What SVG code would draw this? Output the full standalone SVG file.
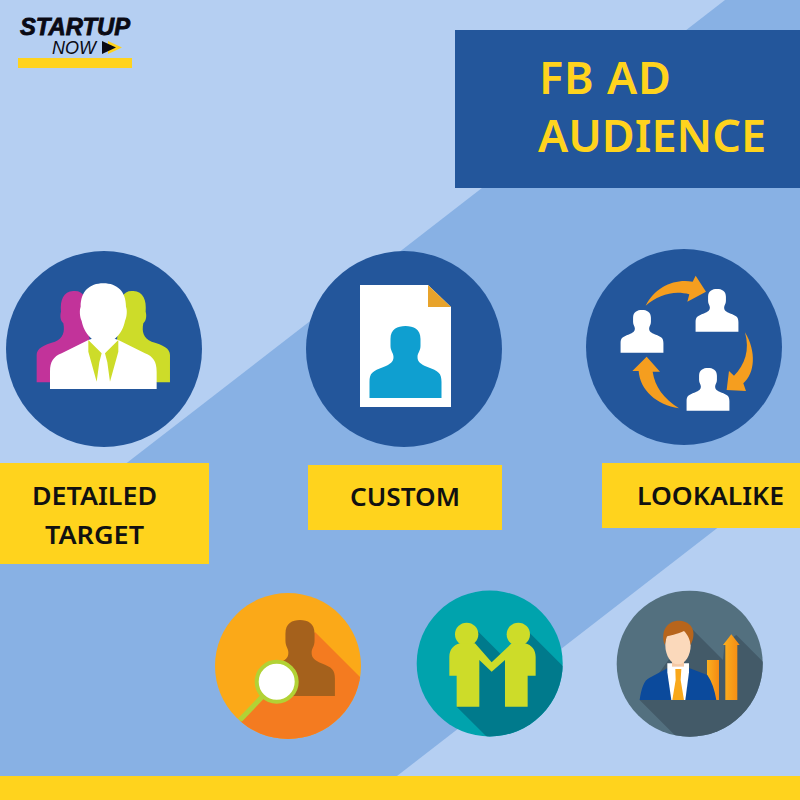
<svg xmlns="http://www.w3.org/2000/svg" width="800" height="800" viewBox="0 0 800 800">
<style>
.title{font-family:"Noto Sans","Open Sans",sans-serif;font-weight:600;font-size:45px;fill:#ffd31d}
.label{font-family:"Noto Sans","Open Sans",sans-serif;font-weight:600;font-size:26px;fill:#111}
.box{fill:#ffd31d}
.navy{fill:#23569b}
.arrow{fill:#f59e1f}
</style>
<defs>
<path id="bust" d="M-15 13C-15 3-8 0 0 0C8 0 15 3 15 13L15 20C15 25 12 27 12 31C12 36 15 38 22 41C33 45 36 47 36 56L36 72H-36V56C-36 47-33 45-22 41C-15 38-12 36-12 31C-12 27-15 25-15 20Z"/>
<linearGradient id="barGrad" x1="0" x2="1" y1="0" y2="0"><stop offset="0" stop-color="#fbb01e"/><stop offset="1" stop-color="#f58a14"/></linearGradient>
<clipPath id="clipMag"><circle cx="288" cy="666" r="73"/></clipPath>
<clipPath id="clipShake"><circle cx="489.7" cy="663.5" r="73"/></clipPath>
<clipPath id="clipBiz"><circle cx="689.7" cy="663.7" r="73"/></clipPath>
</defs>

<g id="background">
<rect width="800" height="800" fill="#b5cff2"/>
<polygon points="725,0 800,0 800,464 397,776 0,776 0,561" fill="#88b1e4"/>
<rect y="776" width="800" height="24" class="box"/>
</g>

<g id="logo">
<text x="20" y="35" font-family="Liberation Sans,Arial,sans-serif" font-weight="700" font-style="italic" font-size="23" fill="#0a0a14" stroke="#0a0a14" stroke-width=".8" textLength="110" lengthAdjust="spacingAndGlyphs">STARTUP</text>
<text x="52" y="54" font-family="Liberation Sans,Arial,sans-serif" font-style="italic" font-size="18" fill="#0a0a14" textLength="44" lengthAdjust="spacingAndGlyphs">NOW</text>
<polygon points="108,41 122,47.500 108,54" fill="#ffd31d"/>
<polygon points="102,41 116,47.500 102,54" fill="#0a0a14"/>
<rect x="18" y="58" width="114" height="10" class="box"/>
</g>

<g id="title">
<rect x="455" y="30" width="345" height="158" class="navy"/>
<text x="539" y="94" class="title" textLength="132">FB AD</text>
<text x="538" y="152" class="title" textLength="228" lengthAdjust="spacingAndGlyphs">AUDIENCE</text>
</g>

<g id="node-detailed">
<circle cx="104" cy="349" r="98" class="navy"/>
<g transform="translate(0,245) scale(.3333)">
<path d="M220 138C250 135 262 160 262 200L270 300L150 412H110V330C110 310 130 300 165 290C190 280 195 260 190 235C180 225 180 210 183 200C180 165 190 140 220 138Z" fill="#c2339a"/>
<path d="M400 138C370 135 358 160 358 200L350 300L470 412H510V330C510 310 490 300 455 290C430 280 425 260 430 235C440 225 440 210 437 200C440 165 430 140 400 138Z" fill="#cddc29"/>
<path d="M310 115C352 115 378 140 378 185C382 195 381 215 375 228C368 265 340 295 310 295C280 295 252 265 245 228C239 215 238 195 242 185C242 140 268 115 310 115Z" fill="#fff"/>
<path d="M265 285L185 325C160 335 150 350 150 380V432H470V380C470 350 460 335 435 325L355 285L310 270Z" fill="#fff"/>
<path d="M265 285L305 325L298 352L290 410L265 320Z" fill="#cddc29"/>
<path d="M355 285L315 325L322 352L330 410L355 320Z" fill="#cddc29"/>
</g>
</g>

<g id="node-custom">
<circle cx="404" cy="349" r="98" class="navy"/>
<polygon points="360,285 428,285 451,307 451,407 360,407" fill="#fff"/>
<polygon points="428,285 451,307 428,307" fill="#e8a32b"/>
<use href="#bust" x="405.500" y="326" fill="#0f9fd0"/>
</g>

<g id="node-lookalike">
<circle cx="684" cy="347" r="98" class="navy"/>
<g fill="#fff">
<use href="#bust" transform="translate(642,310) scale(.595)"/>
<use href="#bust" transform="translate(717,289) scale(.595)"/>
<use href="#bust" transform="translate(708,368) scale(.595)"/>
</g>
<g transform="translate(580,245) scale(.3333)">
<path class="arrow" d="M197 182C225 125 285 100 338 110L347 92L378 140L322 170L328 148C280 135 235 150 197 182Z"/>
<path class="arrow" d="M495 262C530 320 525 385 490 415L498 438L440 435L447 378L462 392C495 360 510 315 495 262Z"/>
<path class="arrow" d="M297 490C230 480 180 435 176 378H157L200 335L240 380H218C225 425 250 460 297 490Z"/>
</g>
</g>

<g id="label-detailed">
<rect y="463" width="209" height="101" class="box"/>
<text x="32" y="505" class="label" textLength="125" lengthAdjust="spacingAndGlyphs">DETAILED</text>
<text x="45" y="544" class="label" textLength="99" lengthAdjust="spacingAndGlyphs">TARGET</text>
</g>
<g id="label-custom">
<rect x="308" y="465" width="194" height="65" class="box"/>
<text x="350" y="506" class="label" textLength="110" lengthAdjust="spacingAndGlyphs">CUSTOM</text>
</g>
<g id="label-lookalike">
<rect x="602" y="463" width="198" height="65" class="box"/>
<text x="637" y="505" class="label" textLength="147" lengthAdjust="spacingAndGlyphs">LOOKALIKE</text>
</g>

<g id="icon-search">
<circle cx="288" cy="666" r="73" fill="#fba918"/>
<polygon points="315,632 375,692 375,745 265,745 240,722 275,680" fill="#f47b20" clip-path="url(#clipMag)"/>
<use href="#bust" transform="translate(300,620) scale(.97,1.055)" fill="#a5611c"/>
<line x1="240" y1="720" x2="262" y2="697" stroke="#b2d235" stroke-width="5"/>
<circle cx="276.700" cy="681.700" r="20" fill="#fff" stroke="#b2d235" stroke-width="4"/>
</g>

<g id="icon-handshake">
<circle cx="489.700" cy="663.500" r="73" fill="#00a3ad"/>
<g clip-path="url(#clipShake)">
<polygon transform="translate(410,585) scale(.3333)" points="200,135 280,215 345,130 470,255 470,470 245,470 140,365" fill="#007a8c"/>
</g>
<g transform="translate(410,585) scale(.3333)" fill="#cddc29">
<circle cx="170" cy="148" r="35"/>
<circle cx="325" cy="148" r="35"/>
<path d="M150 175C130 180 118 195 118 215V272H140V365H208V225L245 260L285 225V365H353V272H377V215C377 195 365 180 345 175H305L245 232L195 175Z"/>
</g>
</g>

<g id="icon-business">
<circle cx="689.700" cy="663.700" r="73" fill="#53707f"/>
<g clip-path="url(#clipBiz)">
<polygon transform="translate(608,585) scale(.3333)" points="250,130 345,225 350,175 385,150 480,245 480,470 220,470 95,345" fill="#435a68"/>
</g>
<g transform="translate(608,585) scale(.3333)">
<rect x="297" y="225" width="36" height="120" fill="url(#barGrad)"/>
<polygon points="352,345 352,180 345,180 370,148 395,180 388,180 388,345" fill="url(#barGrad)"/>
<path d="M95 345C100 310 108 285 125 278L178 250H245L298 270C312 290 320 315 325 345Z" fill="#0b4a9c"/>
<polygon points="178,235 243,235 243,262 232,345 190,345 178,262" fill="#fff"/>
<polygon points="202,252 220,252 218,285 228,345 193,345 203,285" fill="#f9a81a"/>
<rect x="192" y="215" width="36" height="30" fill="#f4c9a6"/>
<ellipse cx="210" cy="180" rx="38" ry="58" fill="#fbd9bb"/>
<path d="M170 180C155 130 185 105 215 107C252 110 268 140 248 180C245 160 238 148 228 138C205 150 185 150 176 155Z" fill="#b7651c"/>
</g>
</g>
</svg>
